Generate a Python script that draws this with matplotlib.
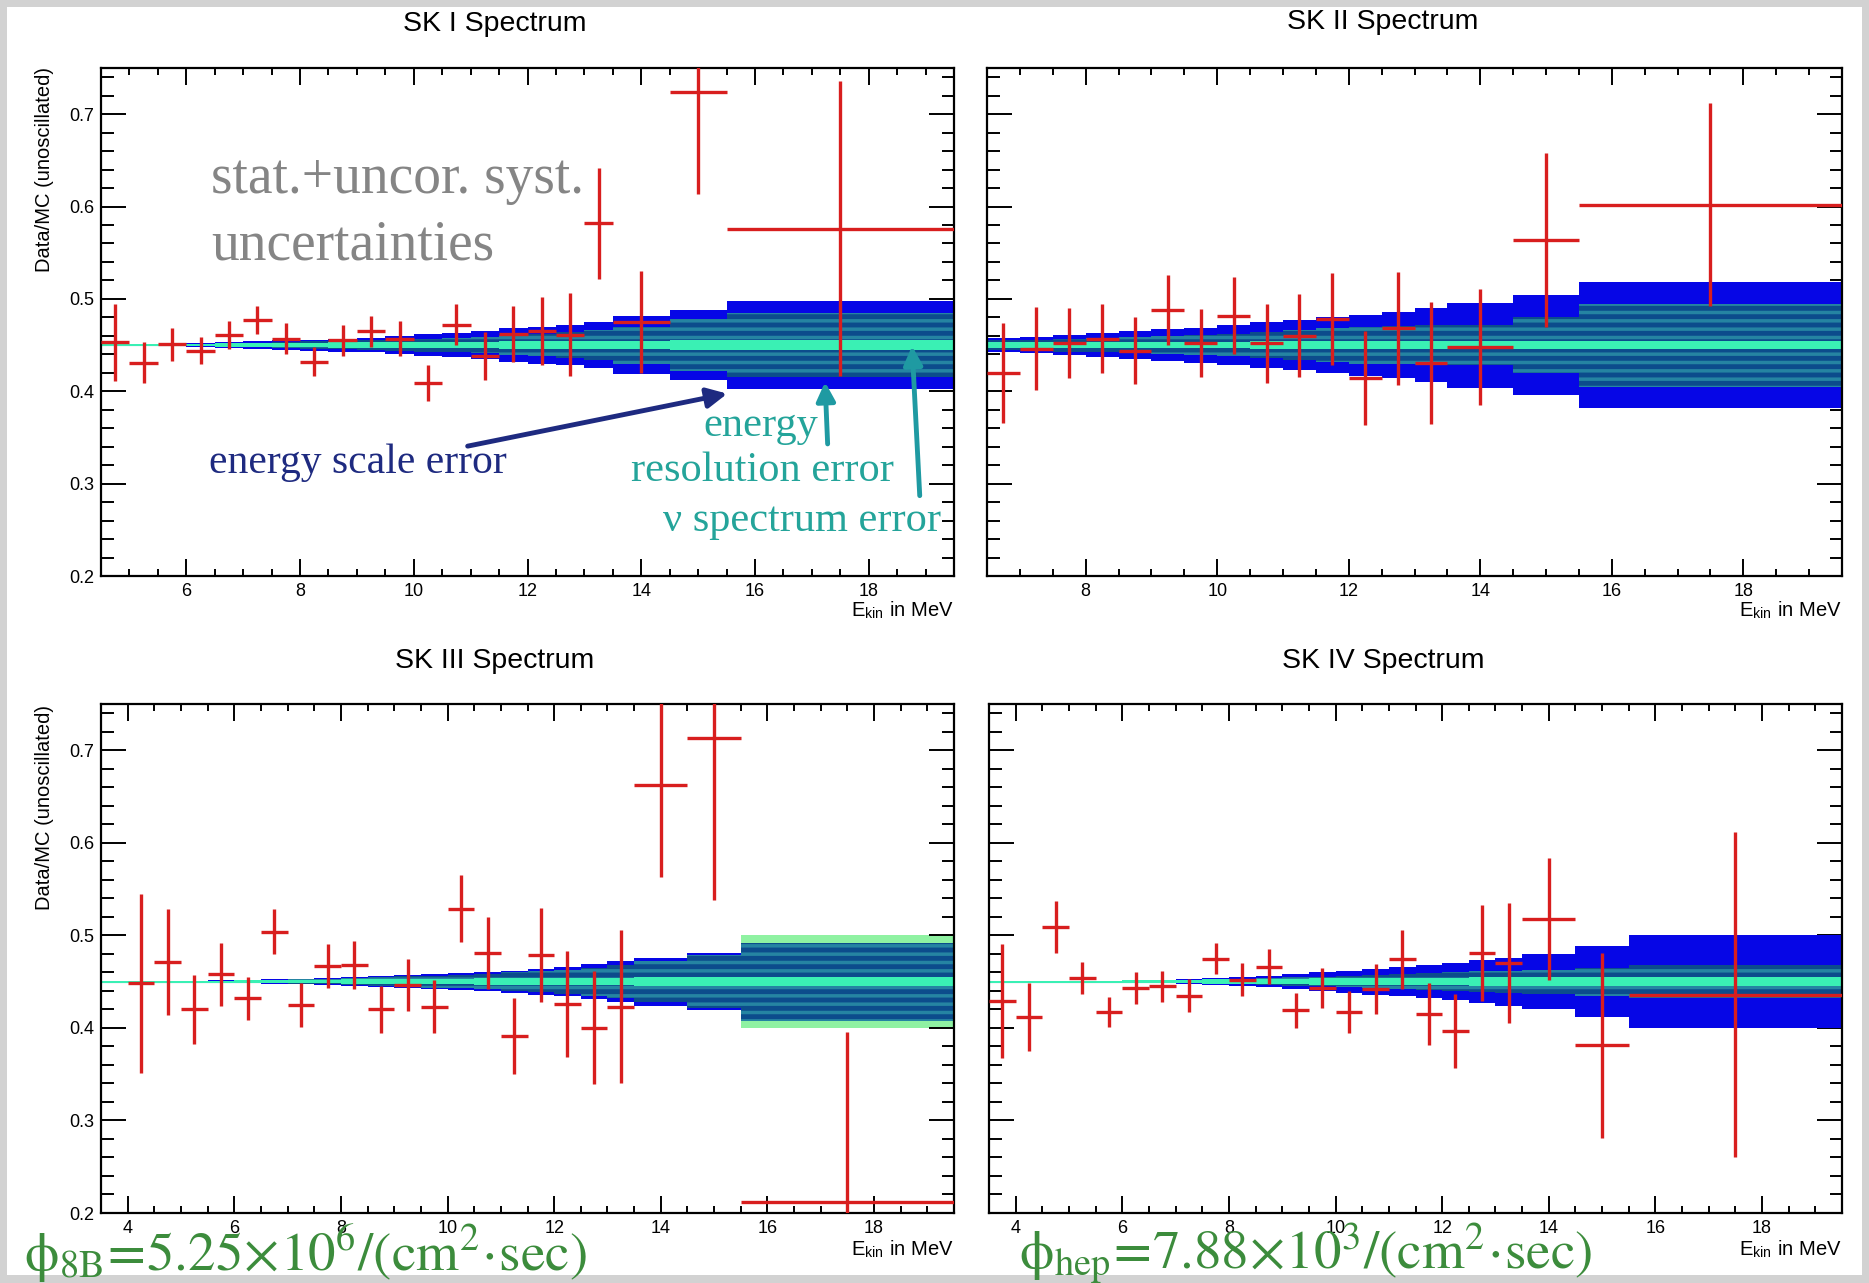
import numpy as np
import matplotlib.pyplot as plt
from matplotlib.patches import Rectangle
from matplotlib.ticker import MultipleLocator, FormatStrFormatter

plt.rcParams['font.family'] = ['Liberation Sans', 'DejaVu Sans']
plt.rcParams['mathtext.fontset'] = 'stix'
plt.rcParams['hatch.linewidth'] = 2.5

W, H = 1869, 1283
mc_ratio = 0.45  # expected Data/MC

# ---- SK I ----
sk1_edges = [4.5, 5, 5.5, 6, 6.5, 7, 7.5, 8, 8.5, 9, 9.5, 10, 10.5, 11, 11.5, 12, 12.5, 13, 13.5, 14.5, 15.5, 19.5]
sk1_scale = [.001, .001, .0015, .002, .003, .004, .005, .006, .007, .008, .010, .012, .013, .015, .018, .020, .022, .025, .031, .038, .048]
sk1_res = [.0005, .0005, .001, .0012, .002, .0025, .003, .004, .0045, .005, .006, .007, .008, .009, .011, .012, .014, .016, .020, .028, .035]
sk1_spec = [.001, .001, .001, .0015, .002, .002, .002, .0025, .003, .003, .003, .003, .0035, .0035, .004, .004, .004, .004, .004, .005, .005]
sk1_e = [4.75, 5.25, 5.75, 6.25, 6.75, 7.25, 7.75, 8.25, 8.75, 9.25, 9.75, 10.25, 10.75, 11.25, 11.75, 12.25, 12.75, 13.25, 14.0, 15.0, 17.5]
sk1_val = [0.453, 0.431, 0.451, 0.444, 0.461, 0.477, 0.457, 0.432, 0.455, 0.465, 0.457, 0.409, 0.472, 0.438, 0.462, 0.465, 0.461, 0.582, 0.475, 0.724, 0.576]
sk1_err = [0.042, 0.022, 0.018, 0.015, 0.015, 0.015, 0.017, 0.016, 0.017, 0.017, 0.019, 0.019, 0.022, 0.026, 0.030, 0.037, 0.045, 0.060, 0.055, 0.110, 0.160]

# ---- SK II ----
sk2_edges = [6.5, 7, 7.5, 8, 8.5, 9, 9.5, 10, 10.5, 11, 11.5, 12, 12.5, 13, 13.5, 14.5, 15.5, 19.5]
sk2_scale = [.008, .009, .011, .013, .015, .017, .019, .022, .025, .027, .030, .033, .036, .040, .046, .054, .068]
sk2_res = [.005, .006, .007, .008, .009, .010, .011, .012, .014, .016, .018, .020, .021, .022, .022, .030, .045]
sk2_spec = [.003, .003, .003, .003, .003, .003, .003, .003, .004, .004, .004, .004, .004, .004, .004, .004, .004]
sk2_e = [6.75, 7.25, 7.75, 8.25, 8.75, 9.25, 9.75, 10.25, 10.75, 11.25, 11.75, 12.25, 12.75, 13.25, 14.0, 15.0, 17.5]
sk2_val = [0.420, 0.446, 0.452, 0.457, 0.444, 0.488, 0.452, 0.482, 0.452, 0.460, 0.478, 0.414, 0.468, 0.431, 0.448, 0.564, 0.602]
sk2_err = [0.054, 0.045, 0.038, 0.037, 0.036, 0.038, 0.037, 0.042, 0.043, 0.045, 0.050, 0.051, 0.061, 0.066, 0.063, 0.094, 0.110]

# ---- SK III ----
sk3_edges = [3.5, 4, 4.5, 5, 5.5, 6, 6.5, 7, 7.5, 8, 8.5, 9, 9.5, 10, 10.5, 11, 11.5, 12, 12.5, 13, 13.5, 14.5, 15.5, 19.5]
sk3_scale = [.001, .001, .001, .0012, .0015, .002, .0025, .003, .004, .005, .006, .007, .008, .009, .010, .012, .014, .016, .019, .022, .026, .031, .042]
sk3_res = [.0008, .0008, .0008, .001, .0012, .0016, .002, .0025, .003, .004, .005, .006, .0065, .007, .008, .010, .011, .013, .015, .018, .022, .029, .042]
sk3_spec = [.001, .001, .001, .001, .001, .0015, .0015, .002, .002, .0025, .003, .003, .003, .003, .0035, .0035, .004, .004, .004, .004, .005, .005, .005]
sk3_spec_outer = [0] * 22 + [.050]
sk3_e = [4.25, 4.75, 5.25, 5.75, 6.25, 6.75, 7.25, 7.75, 8.25, 8.75, 9.25, 9.75, 10.25, 10.75, 11.25, 11.75, 12.25, 12.75, 13.25, 14.0, 15.0, 17.5]
sk3_val = [0.448, 0.471, 0.420, 0.458, 0.432, 0.504, 0.425, 0.467, 0.468, 0.420, 0.446, 0.423, 0.529, 0.481, 0.391, 0.479, 0.426, 0.400, 0.423, 0.663, 0.713, 0.212]
sk3_err = [0.097, 0.057, 0.037, 0.034, 0.023, 0.024, 0.024, 0.024, 0.026, 0.025, 0.028, 0.029, 0.036, 0.039, 0.041, 0.051, 0.057, 0.061, 0.083, 0.100, 0.175, 0.184]

# ---- SK IV ----
sk4_edges = sk3_edges
sk4_scale = [.0005, .0005, .0008, .001, .001, .0015, .002, .003, .004, .005, .006, .008, .010, .012, .014, .016, .018, .020, .023, .026, .030, .038, .050]
sk4_res = [.0003, .0003, .0005, .0006, .0006, .001, .0012, .0018, .0024, .003, .0036, .0045, .005, .006, .007, .008, .009, .010, .011, .012, .013, .015, .018]
sk4_spec = [.001, .001, .001, .001, .001, .0015, .002, .002, .0025, .003, .003, .003, .0035, .004, .004, .004, .004, .004, .005, .005, .005, .005, .005]
sk4_e = [3.75, 4.25, 4.75, 5.25, 5.75, 6.25, 6.75, 7.25, 7.75, 8.25, 8.75, 9.25, 9.75, 10.25, 10.75, 11.25, 11.75, 12.25, 12.75, 13.25, 14.0, 15.0, 17.5]
sk4_val = [0.429, 0.412, 0.509, 0.454, 0.417, 0.443, 0.445, 0.435, 0.475, 0.452, 0.466, 0.419, 0.443, 0.417, 0.442, 0.474, 0.415, 0.397, 0.481, 0.470, 0.518, 0.381, 0.436]
sk4_err = [0.062, 0.037, 0.028, 0.017, 0.016, 0.017, 0.017, 0.018, 0.017, 0.018, 0.019, 0.019, 0.022, 0.023, 0.027, 0.032, 0.034, 0.040, 0.052, 0.065, 0.066, 0.100, 0.176]

titles = ['SK I Spectrum', 'SK II Spectrum', 'SK III Spectrum', 'SK IV Spectrum']

RED = '#d81e1e'
BLUE = '#0606e6'
TEAL_FACE = '#0c4c8c'
TEAL_HATCH = '#2584a2'
AQUA = '#3af0b4'
LIGHTGREEN = '#8ff2a2'


def band(ax, edges, hw, **kw):
    edges = np.asarray(edges)
    hw = np.asarray(hw)
    ax.bar(edges[:-1], 2 * hw, width=np.diff(edges), bottom=mc_ratio - hw,
           align='edge', linewidth=0, **kw)


def panel(ax, edges, scale, res, spec, e, val, err, left_labels, outer=None):
    edges_a = np.asarray(edges)
    ax.plot([edges_a[0], edges_a[-1]], [mc_ratio, mc_ratio], color='#3a8ab0', lw=0.8, zorder=1)
    if outer is not None:
        band(ax, edges, outer, color=LIGHTGREEN, zorder=1.5)
    band(ax, edges, scale, color=BLUE, zorder=2)
    band(ax, edges, res, color=TEAL_FACE, edgecolor=TEAL_HATCH, hatch='--', zorder=2.2)
    band(ax, edges, spec, color=AQUA, zorder=2.4)
    # x error = half bin width
    centers = np.asarray(e)
    idx = np.searchsorted(edges_a, centers) - 1
    xerr = np.diff(edges_a)[idx] / 2
    ax.errorbar(e, val, yerr=err, xerr=xerr, fmt='none', ecolor=RED,
                elinewidth=2.4, capsize=0, zorder=3)
    ax.set_xlim(edges_a[0], 19.5)
    ax.set_ylim(0.2, 0.75)
    ax.xaxis.set_major_locator(MultipleLocator(2))
    ax.xaxis.set_minor_locator(MultipleLocator(0.5))
    ax.yaxis.set_major_locator(MultipleLocator(0.1))
    ax.yaxis.set_minor_locator(MultipleLocator(0.02))
    ax.yaxis.set_major_formatter(FormatStrFormatter('%.1f'))
    ax.tick_params(which='both', direction='in', top=True, right=True,
                   width=1.4, labelsize=13, pad=5)
    ax.tick_params(axis='x', which='major', length=12)
    ax.tick_params(axis='x', which='minor', length=5)
    ax.tick_params(axis='y', which='major', length=18)
    ax.tick_params(axis='y', which='minor', length=9)
    ax.tick_params(axis='y', labelleft=left_labels)
    for s in ax.spines.values():
        s.set_linewidth(1.6)


fig = plt.figure(figsize=(W / 100, H / 100), dpi=100, facecolor='#d2d2d2')
fig.patches.append(Rectangle((7 / W, 8 / H), 1855 / W, 1268 / H, transform=fig.transFigure,
                             facecolor='white', edgecolor='none', zorder=-1))

ax1 = fig.add_axes([101 / W, 1 - 576 / H, 853 / W, 508 / H])
ax2 = fig.add_axes([987 / W, 1 - 576 / H, 855 / W, 508 / H])
ax3 = fig.add_axes([101 / W, 1 - 1213 / H, 853 / W, 509 / H])
ax4 = fig.add_axes([989 / W, 1 - 1213 / H, 853 / W, 509 / H])

panel(ax1, sk1_edges, sk1_scale, sk1_res, sk1_spec, sk1_e, sk1_val, sk1_err, True)
panel(ax2, sk2_edges, sk2_scale, sk2_res, sk2_spec, sk2_e, sk2_val, sk2_err, False)
panel(ax3, sk3_edges, sk3_scale, sk3_res, sk3_spec, sk3_e, sk3_val, sk3_err, True, outer=sk3_spec_outer)
panel(ax4, sk4_edges, sk4_scale, sk4_res, sk4_spec, sk4_e, sk4_val, sk4_err, False)

# titles and axis labels (ROOT-like placement)
for (tx, ty), t in zip([(495, 24), (1383, 22), (495, 661), (1383, 661)], titles):
    fig.text(tx / W, 1 - ty / H, t, ha='center', va='center', fontsize=20.5)
for yy in (170, 808):
    fig.text(45 / W, 1 - yy / H, 'Data/MC (unoscillated)', rotation=90,
             ha='center', va='center', fontsize=14.5)
for xx, yy in [(954, 610), (1842, 610), (954, 1249), (1842, 1249)]:
    fig.text(xx / W, 1 - yy / H, r'E$_{\mathregular{kin}}$ in MeV', ha='right', va='center', fontsize=14.5)

# annotations on SK I
serif = 'Liberation Serif'
ax1.text(6.43, 0.630, 'stat.+uncor. syst.', family=serif, fontsize=40, color='#858585',
         ha='left', va='center', zorder=4)
ax1.text(6.43, 0.558, 'uncertainties', family=serif, fontsize=40, color='#858585',
         ha='left', va='center', zorder=4)
ax1.text(6.40, 0.323, 'energy scale error', family=serif, fontsize=30, color='#1e2a80',
         ha='left', va='center', zorder=4)
ax1.annotate('', xy=(15.56, 0.398), xytext=(10.9, 0.340),
             arrowprops=dict(arrowstyle='-|>', lw=3.5, color='#1e2a80', mutation_scale=30), zorder=4)
teal_txt = '#24a49a'
ax1.text(16.1, 0.363, 'energy', family=serif, fontsize=30.5, color=teal_txt, ha='center', va='center', zorder=4)
ax1.text(16.14, 0.314, 'resolution error', family=serif, fontsize=30.5, color=teal_txt, ha='center', va='center', zorder=4)
ax1.text(16.83, 0.260, 'ν spectrum error', family=serif, fontsize=30.5, color=teal_txt, ha='center', va='center', zorder=4)
ax1.annotate('', xy=(17.23, 0.413), xytext=(17.28, 0.340),
             arrowprops=dict(arrowstyle='-|>', lw=3.5, color='#1f9aa2', mutation_scale=28), zorder=4)
ax1.annotate('', xy=(18.76, 0.452), xytext=(18.9, 0.284),
             arrowprops=dict(arrowstyle='-|>', lw=3.5, color='#1f9aa2', mutation_scale=28), zorder=4)

# flux results
green = '#3c8c3c'
fig.text(24 / W, 1 - 1254 / H, r'$\mathrm{\phi_{8B}}\!=\!\mathrm{5.25}\!\times\!\mathrm{10^{6}/(cm^{2}\!\cdot\!sec)}$',
         color=green, fontsize=39.5, ha='left', va='center')
fig.text(1019 / W, 1 - 1254 / H, r'$\mathrm{\phi_{hep}}\!=\!\mathrm{7.88}\!\times\!\mathrm{10^{3}/(cm^{2}\!\cdot\!sec)}$',
         color=green, fontsize=39.5, ha='left', va='center')

fig.savefig('out.png', dpi=100, facecolor=fig.get_facecolor())
